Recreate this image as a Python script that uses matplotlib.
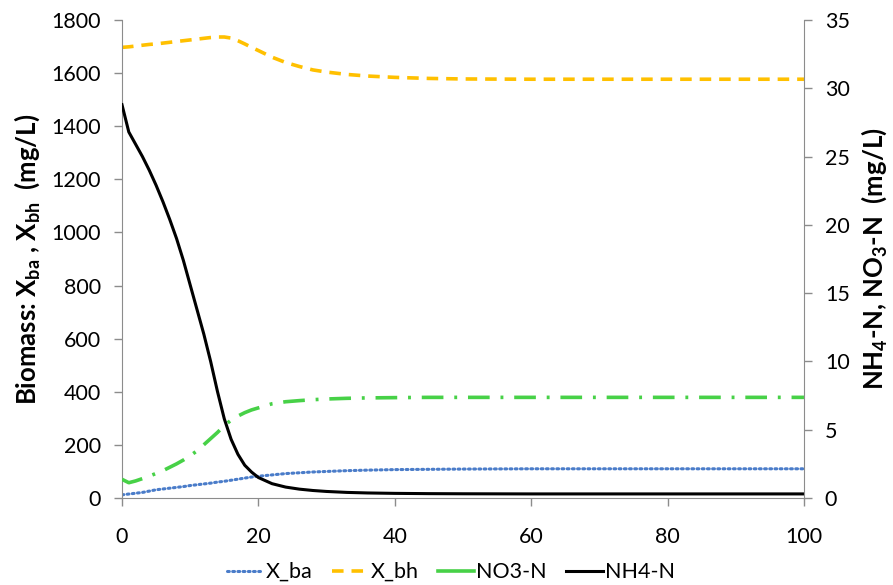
import matplotlib
matplotlib.use("Agg")
import matplotlib.pyplot as plt
from matplotlib.lines import Line2D

plt.rcParams['font.family'] = ['Lato', 'DejaVu Sans']
plt.rcParams['mathtext.fontset'] = 'custom'
plt.rcParams['mathtext.rm'] = 'Lato:bold'
plt.rcParams['mathtext.it'] = 'Lato:bold'
plt.rcParams['mathtext.bf'] = 'Lato:bold'

# simulation time (days)
t = [0, 1, 2, 3, 4, 5, 6, 7, 8, 9, 10, 11, 12, 13, 14, 15, 16, 17, 18, 19,
     20, 22, 24, 26, 28, 30, 33, 36, 40, 45, 50, 60, 70, 80, 90, 100]

# biomass, mg/L (left axis)
x_ba = [12, 15, 18, 21, 26, 31, 34, 37, 40, 43, 47, 50, 53, 56, 60, 63, 67, 71, 75, 79,
        82, 87, 92, 95, 98, 100, 103, 105, 107, 108, 109, 110, 110, 110, 110, 110]
x_bh = [1697, 1699, 1702, 1705, 1708, 1710, 1713, 1716, 1719, 1722, 1725, 1728, 1731,
        1734, 1736, 1736, 1732, 1722, 1710, 1697, 1685, 1660, 1640, 1625, 1612, 1604,
        1595, 1589, 1584, 1580, 1578, 1577, 1577, 1577, 1577, 1577]

# nitrogen, mg/L (right axis)
no3 = [1.37, 1.12, 1.25, 1.42, 1.6, 1.8, 2.0, 2.25, 2.5, 2.78, 3.1, 3.45, 3.9, 4.35,
       4.8, 5.3, 5.7, 6.0, 6.25, 6.45, 6.6, 6.9, 7.05, 7.13, 7.2, 7.25, 7.3, 7.33,
       7.35, 7.37, 7.37, 7.37, 7.37, 7.37, 7.37, 7.37]
nh4 = [28.8, 26.8, 25.9, 25.0, 24.0, 22.9, 21.7, 20.4, 19.0, 17.4, 15.6, 13.8, 12.0,
       10.0, 7.8, 5.8, 4.3, 3.2, 2.4, 1.9, 1.5, 1.05, 0.8, 0.65, 0.55, 0.48, 0.41,
       0.37, 0.34, 0.32, 0.31, 0.3, 0.3, 0.3, 0.3, 0.3]

fig = plt.figure(figsize=(8.93, 5.85), dpi=100)
ax = fig.add_axes([0.1366, 0.1487, 0.7637, 0.8171])
ax2 = ax.twinx()

grey = '#8c8c8c'
green = '#47d147'

l1, = ax.plot(t, x_ba, color='#4a7cc9', lw=2.2, linestyle=(0, (0.6, 1.1)),
              dash_capstyle='round', label='X_ba')
l2, = ax.plot(t, x_bh, color='#ffc000', lw=2.6, linestyle=(0, (3.2, 2.2)), label='X_bh')
l3, = ax2.plot(t, no3, color=green, lw=2.6, linestyle=(0, (6, 3, 0.8, 3)), label='NO3-N')
l4, = ax2.plot(t, nh4, color='black', lw=2.2, label='NH4-N')

ax.set_xlim(0, 100)
ax.set_ylim(0, 1800)
ax2.set_ylim(0, 35)
ax.set_xticks(range(0, 101, 20))
ax.set_yticks(range(0, 1801, 200))
ax2.set_yticks(range(0, 36, 5))

for a in (ax, ax2):
    a.spines['top'].set_visible(False)
    for s in ('left', 'right', 'bottom'):
        a.spines[s].set_color(grey)
    a.tick_params(colors=grey, labelcolor='black', labelsize=15.5, length=6, width=1, pad=9)
ax.spines['right'].set_visible(False)
ax2.spines['left'].set_visible(False)
ax2.spines['bottom'].set_visible(False)
ax.tick_params(axis='x', pad=15)

ax.set_ylabel('Biomass: X$_{ba}$ , X$_{bh}$  (mg/L)', fontsize=18.5, fontweight='bold', labelpad=7)
ax2.set_ylabel('NH$_4$-N, NO$_3$-N  (mg/L)', fontsize=18.5, fontweight='bold', labelpad=7)

# dash-dot shows only its long dash in the short legend sample
no3_key = Line2D([], [], color=green, lw=2.6, label='NO3-N')
fig.legend(handles=[l1, l2, no3_key, l4], loc='center', bbox_to_anchor=(0.505, 0.022), ncol=4,
           frameon=False, fontsize=15.5, handlelength=1.7, handletextpad=0.1, columnspacing=0.9)

fig.savefig('out.png', dpi=100)
